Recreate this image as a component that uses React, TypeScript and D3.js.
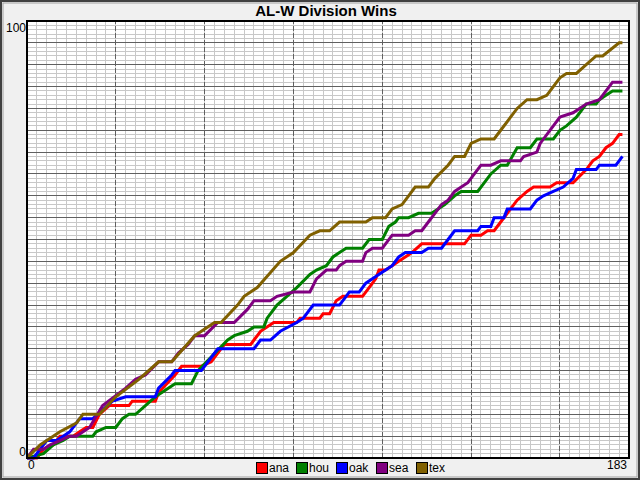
import React from 'react';
import * as d3 from 'd3';

// corner points of each team's win curve: game number and cumulative wins
const anaGames = [0, 3, 5, 8, 10, 14, 16, 18, 20, 22, 25, 31, 32, 39, 40, 45, 47, 53, 56, 60, 68, 69, 71, 75, 82, 83, 89, 90, 92, 94, 96, 102, 104, 106, 107, 109, 111, 113, 115, 117, 120, 121, 133, 135, 138, 140, 142, 144, 147, 149, 152, 154, 159, 161, 166, 170, 172, 174, 176, 178, 180, 181];
const anaWins = [0, 0, 2, 3, 5, 5, 6, 7, 7, 10, 12, 12, 13, 13, 15, 19, 21, 21, 22, 26, 26, 27, 29, 31, 31, 32, 32, 33, 33, 36, 37, 37, 39, 41, 43, 43, 44, 45, 46, 47, 49, 49, 49, 51, 51, 52, 52, 54, 57, 59, 61, 62, 62, 63, 63, 66, 68, 69, 71, 72, 74, 74];

const houGames = [0, 5, 8, 11, 13, 20, 21, 24, 27, 29, 31, 33, 36, 39, 41, 45, 50, 52, 61, 63, 67, 69, 72, 73, 76, 79, 82, 86, 88, 91, 93, 95, 97, 102, 104, 108, 110, 112, 113, 116, 119, 123, 127, 130, 132, 137, 138, 140, 141, 144, 146, 149, 153, 155, 160, 162, 164, 167, 170, 173, 174, 176, 178, 181];
const houWins = [0, 1, 3, 4, 5, 5, 6, 7, 7, 9, 10, 10, 12, 14, 15, 17, 17, 20, 27, 28, 29, 30, 30, 32, 35, 37, 39, 42, 43, 44, 46, 47, 48, 48, 50, 50, 53, 54, 55, 55, 56, 56, 58, 60, 61, 61, 62, 64, 65, 67, 67, 71, 71, 73, 73, 75, 76, 78, 81, 81, 82, 83, 84, 84];

const oakGames = [0, 2, 5, 6, 9, 11, 13, 16, 20, 23, 26, 30, 39, 40, 44, 45, 53, 55, 57, 58, 69, 70, 71, 74, 77, 82, 84, 87, 95, 97, 98, 101, 103, 105, 109, 111, 113, 115, 120, 122, 126, 128, 130, 137, 138, 141, 142, 145, 146, 153, 155, 157, 160, 163, 166, 167, 173, 174, 179, 180, 181];
const oakWins = [0, 0, 3, 4, 4, 5, 6, 9, 9, 11, 13, 14, 14, 16, 19, 20, 20, 22, 24, 25, 25, 26, 27, 27, 29, 31, 32, 35, 35, 37, 38, 38, 40, 41, 43, 44, 46, 47, 47, 48, 48, 50, 52, 52, 53, 53, 55, 55, 57, 57, 59, 60, 61, 62, 64, 66, 66, 67, 67, 68, 69];

const seaGames = [0, 2, 5, 7, 10, 13, 15, 19, 23, 30, 33, 36, 40, 44, 46, 49, 51, 54, 58, 63, 67, 69, 74, 76, 81, 86, 88, 91, 94, 95, 97, 102, 103, 105, 108, 109, 111, 116, 118, 120, 122, 124, 126, 128, 130, 132, 134, 136, 138, 141, 144, 150, 151, 155, 156, 160, 162, 166, 170, 174, 178, 181];
const seaWins = [0, 2, 2, 3, 4, 5, 5, 7, 12, 16, 18, 19, 22, 22, 24, 26, 28, 28, 31, 31, 34, 36, 36, 37, 38, 38, 41, 43, 43, 44, 45, 45, 47, 48, 48, 49, 51, 51, 52, 52, 54, 56, 58, 59, 61, 62, 63, 65, 67, 67, 68, 68, 69, 70, 72, 76, 78, 79, 81, 82, 86, 86];

const texGames = [0, 4, 10, 15, 17, 22, 27, 34, 40, 44, 51, 57, 59, 64, 66, 70, 77, 81, 86, 89, 92, 95, 103, 105, 109, 111, 114, 116, 118, 122, 124, 128, 130, 133, 135, 138, 142, 144, 149, 152, 155, 158, 162, 164, 167, 170, 173, 175, 180, 181];
const texWins = [0, 3, 6, 8, 10, 10, 14, 18, 22, 22, 28, 31, 31, 35, 37, 39, 45, 47, 51, 52, 52, 54, 54, 55, 55, 57, 58, 60, 62, 62, 64, 67, 69, 69, 72, 73, 73, 75, 80, 82, 82, 83, 87, 88, 88, 90, 92, 92, 95, 95];

const teams = ['ana', 'hou', 'oak', 'sea', 'tex'];
const colors = ['#ff0000', '#008000', '#0000ff', '#800080', '#806000'];
const seriesGames = [anaGames, houGames, oakGames, seaGames, texGames];
const seriesWins = [anaWins, houWins, oakWins, seaWins, texWins];

const xMax = 183;
const yMax = 100;

const W = 640;
const H = 480;
const margin = { top: 21, right: 11, bottom: 22, left: 27 };

export default function App() {
  const x = d3.scaleLinear().domain([0, xMax]).range([margin.left, W - margin.right]);
  const y = d3.scaleLinear().domain([0, yMax]).range([H - margin.bottom, margin.top]);

  const minorX = d3.range(0, xMax + 1, 3);
  const majorX = d3.range(27, xMax, 27);
  const minorY = d3.range(0, yMax + 1, 1);
  const majorY = d3.range(5, yMax, 5);

  const font = '"Liberation Sans", "DejaVu Sans", sans-serif';

  return (
    <svg width={W} height={H} style={{ position: 'absolute', left: 0, top: 0 }}>
      <rect x={0} y={0} width={W} height={H} fill="#f0f0f0" />
      <rect x={1} y={1} width={W - 2} height={H - 2} fill="none" stroke="#404040" strokeWidth={2} />
      <rect x={3} y={3} width={W - 6} height={H - 6} fill="none" stroke="#a0a0a0" strokeWidth={1} />

      <text x={W / 2 + 6} y={16} textAnchor="middle" fontFamily={font} fontSize={15} fontWeight="bold" fill="#000">
        AL-W Division Wins
      </text>

      <rect x={x(0)} y={y(yMax)} width={x(xMax) - x(0)} height={y(0) - y(yMax)} fill="#ffffff" />

      <g shapeRendering="crispEdges">
        {minorX.map(v => (
          <line key={'mx' + v} x1={x(v)} x2={x(v)} y1={y(0)} y2={y(yMax)} stroke="#c8c8c8" />
        ))}
        {minorY.map(v => (
          <line key={'my' + v} x1={x(0)} x2={x(xMax)} y1={y(v)} y2={y(v)} stroke="#c8c8c8" />
        ))}
        {majorY.map(v => (
          <line key={'Y' + v} x1={x(0)} x2={x(xMax)} y1={y(v)} y2={y(v)} stroke="#606060" />
        ))}
        {majorX.map(v => (
          <line key={'X' + v} x1={x(v)} x2={x(v)} y1={y(0)} y2={y(yMax)} stroke="#606060" strokeDasharray="5,2" />
        ))}
      </g>

      {seriesWins.map((vals, i) => {
        const g = seriesGames[i];
        const line = d3.line<number>().x((_, j) => x(g[j])).y(d => y(d));
        return (
          <path key={teams[i]} d={line(vals) || ''} fill="none" stroke={colors[i]} strokeWidth={3} strokeLinejoin="miter" />
        );
      })}

      <rect x={x(0)} y={y(yMax)} width={x(xMax) - x(0)} height={y(0) - y(yMax)} fill="none" stroke="#000" strokeWidth={2} shapeRendering="crispEdges" />

      <g fontFamily={font} fontSize={12} fill="#000">
        <text x={margin.left - 1} y={y(yMax) + 11} textAnchor="end">100</text>
        <text x={margin.left - 1} y={y(0) - 2} textAnchor="end">0</text>
        <text x={x(0) + 1} y={H - 11}>0</text>
        <text x={x(xMax) - 2} y={H - 11} textAnchor="end">183</text>
      </g>

      <g fontFamily={font} fontSize={12}>
        {teams.map((t, i) => (
          <g key={t} transform={`translate(${256 + i * 40},462)`}>
            <rect x={0.5} y={0.5} width={11} height={11} fill={colors[i]} stroke="#000" shapeRendering="crispEdges" />
            <text x={13} y={10} fill="#000">{t}</text>
          </g>
        ))}
      </g>
    </svg>
  );
}
